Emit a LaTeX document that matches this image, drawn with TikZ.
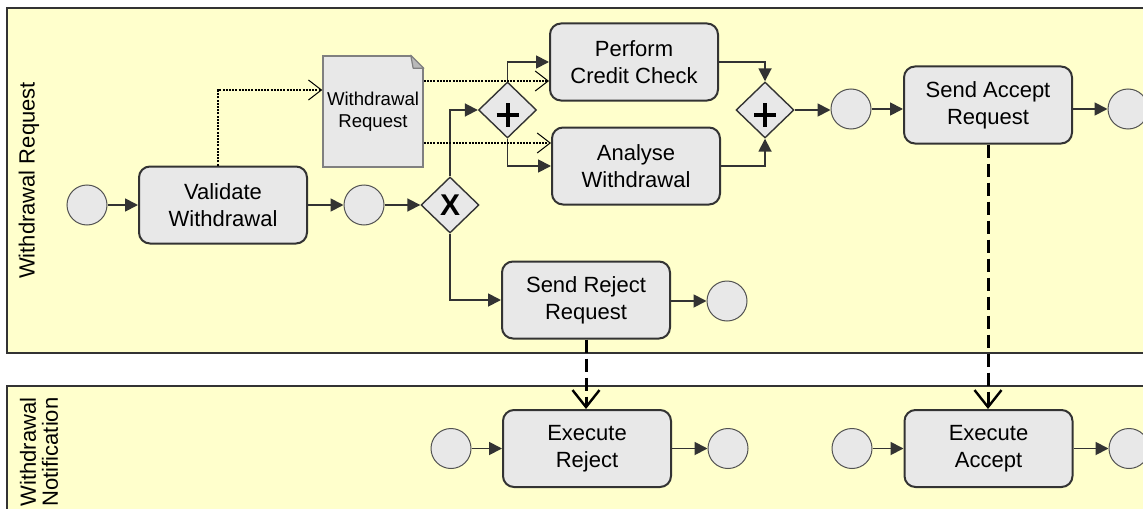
\documentclass[tikz,border=0pt]{standalone}
\usepackage{fontspec}
\setmainfont{Liberation Sans}
\usetikzlibrary{arrows.meta, shapes.geometric}

\definecolor{lanebg}{HTML}{FFFFCC}
\definecolor{taskbg}{HTML}{E8E8E8}
\definecolor{edge}{HTML}{333333}

\tikzset{
  lane/.style={draw=edge, line width=1.1pt, fill=lanebg},
  lanelabel/.style={rotate=90, inner sep=0pt, align=center},
  task/.style={draw=edge, line width=1pt, fill=taskbg, rounded corners=5.5pt,
    minimum width=84pt, minimum height=38.5pt, inner sep=0pt, align=center,
    font=\fontsize{11}{13.5}\selectfont},
  event/.style={circle, draw=edge!85, line width=0.5pt, fill=taskbg,
    minimum size=20pt, inner sep=0pt},
  gateway/.style={diamond, draw=edge, line width=0.7pt, fill=taskbg,
    minimum width=29pt, minimum height=28pt, inner sep=0pt},
  xorgate/.style={gateway, font=\fontsize{15}{15}\selectfont\bfseries},
  andgate/.style={gateway, path picture={
      \draw[line width=2pt, black]
        ([shift={(-5.5pt,-2.25pt)}]path picture bounding box.center) --
        ([shift={(5.5pt,-2.25pt)}]path picture bounding box.center)
        ([shift={(0pt,-8.25pt)}]path picture bounding box.center) --
        ([shift={(0pt,3.75pt)}]path picture bounding box.center);}},
  dataobj/.style={draw=gray, line width=0.75pt, fill=taskbg,
    minimum width=50pt, minimum height=55.5pt, inner sep=0pt, align=center,
    font=\fontsize{9.3}{11}\selectfont},
  fold/.style={draw=gray, line width=0.6pt, fill=gray!55, line join=round},
  flow/.style={draw=edge, line width=0.9pt, -{Triangle[length=6.5pt, width=6.5pt]}},
  assoc/.style={draw=black, line width=0.85pt, dash pattern=on 1pt off 0.6pt,
    -{Straight Barb[length=6.5pt, width=10pt, line width=0.5pt]}},
  message/.style={draw=black, line width=1.5pt, dash pattern=on 6.5pt off 3pt,
    -{Straight Barb[length=8.5pt, width=13.5pt, line width=1.2pt]}}
}

\begin{document}
\begin{tikzpicture}[x=0.5pt, y=-0.5pt]
  \useasboundingbox (0,0) rectangle (1143,508);
  \clip (0,0) rectangle (1143,508);
  \fill[white] (0,0) rectangle (1143,508);

  % lanes
  \draw[lane] (7,8) rectangle (1170,353);
  \draw[lane] (7,386) rectangle (1170,540);
  \node[lanelabel, font=\fontsize{11}{13.5}\selectfont] (lreq) at (29,180.5) {Withdrawal Request};
  \node[lanelabel, font=\fontsize{11}{11}\selectfont] (lnot) at (39,452) {Withdrawal\\Notification};

  % request lane
  \node[event] (s1) at (87,205) {};
  \node[task] (val) at (223,205) {Validate\\Withdrawal};
  \node[event] (e1) at (364,205) {};
  \node[xorgate] (xor) at (450,205) {X};
  \node[andgate] (and1) at (507.5,110) {};
  \node[task] (pcc) at (634,62) {Perform\\Credit Check};
  \node[task] (ana) at (636,166) {Analyse\\Withdrawal};
  \node[andgate] (and2) at (765,110) {};
  \node[event] (e2) at (851,109) {};
  \node[task] (acc) at (988,105) {Send Accept\\Request};
  \node[event] (e3) at (1128,109) {};
  \node[task] (rej) at (586,300) {Send Reject\\Request};
  \node[event] (e4) at (727,301) {};

  % data object with a folded corner
  \node[dataobj] (doc) at (373,111.5) {Withdrawal\\Request};
  \coordinate (docne) at (doc.north -| doc.east);
  \fill[lanebg] ([shift={(-7pt,0.8pt)}]docne) -- ([shift={(0.8pt,0.8pt)}]docne)
    -- ([shift={(0.8pt,-7pt)}]docne) -- cycle;
  \draw[fold] ([xshift=-6.5pt]docne) -- ([shift={(-5.3pt,-6.5pt)}]docne)
    -- ([yshift=-6.5pt]docne) -- cycle;

  % notification lane
  \node[event] (s2) at (451,448.5) {};
  \node[task] (xrej) at (587,448.5) {Execute\\Reject};
  \node[event] (e5) at (728,448.5) {};
  \node[event] (s3) at (852,448.5) {};
  \node[task] (xacc) at (988.5,448.5) {Execute\\Accept};
  \node[event] (e6) at (1129,448.5) {};

  % sequence flows
  \draw[flow] (s1) -- (val);
  \draw[flow] (val) -- (e1);
  \draw[flow] (e1) -- (xor);
  \draw[flow] (xor.north) |- (and1.west);
  \draw[flow] (xor.south) |- (rej.west);
  \draw[flow] (and1.north) |- (pcc.west);
  \draw[flow] (and1.south) |- (ana.west);
  \draw[flow] (pcc.east) -| (and2.north);
  \draw[flow] (ana.east) -| (and2.south);
  \draw[flow] (and2.east) -- (and2.east -| e2.west);
  \draw[flow] (e2.east) -- (e2.east -| acc.west);
  \draw[flow] (acc.east |- e3.west) -- (e3.west);
  \draw[flow] (rej.east |- e4.west) -- (e4.west);
  \draw[flow] (s2) -- (xrej);
  \draw[flow] (xrej) -- (e5);
  \draw[flow] (s3) -- (xacc);
  \draw[flow] (xacc) -- (e6);

  % data associations
  \draw[assoc] ([xshift=-2.5pt]val.north) |- ([yshift=10.75pt]doc.west);
  \draw[assoc] ([yshift=15.25pt]doc.east) -- ([yshift=15.25pt]doc.east -| pcc.west);
  \draw[assoc] ([yshift=-15.75pt]doc.east) -- ([yshift=-15.75pt]doc.east -| ana.west);

  % messages
  \draw[message] (rej.south) -- (rej.south |- xrej.north);
  \draw[message] (acc.south) -- (acc.south |- xacc.north);
\end{tikzpicture}
\end{document}
